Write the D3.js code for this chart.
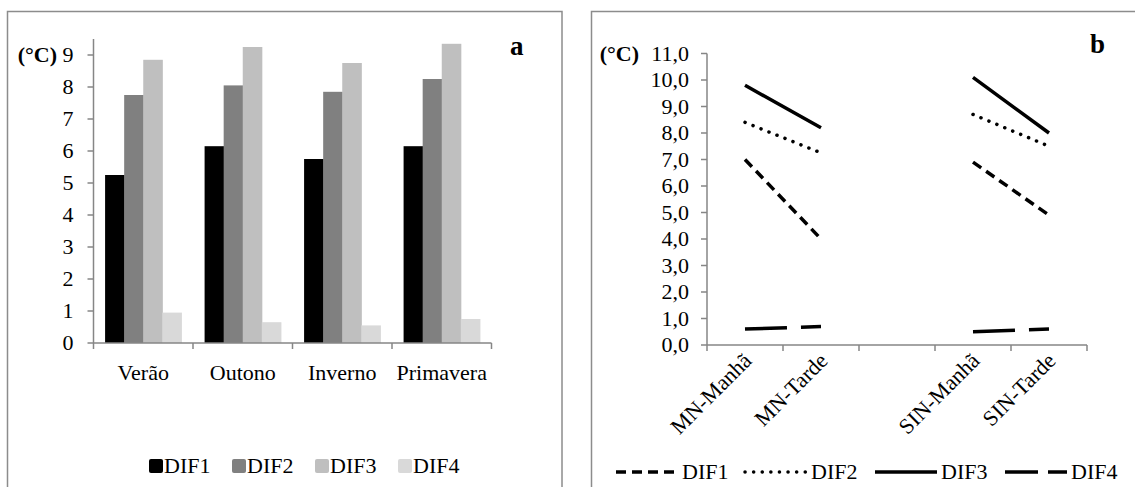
<!DOCTYPE html>
<html>
<head>
<meta charset="utf-8">
<script src="https://cdn.jsdelivr.net/npm/d3@7"></script>
<style>
	html, body { margin: 0; padding: 0; background: #fff; }
	svg { display: block; }
	svg text { font-family: "Liberation Serif", "DejaVu Serif", serif; }
</style>
</head>
<body>
<div id="chart"></div>
<script>
// panel a - seasons
var seasons = ['Verão', 'Outono', 'Inverno', 'Primavera'];
var dif1Season = [5.25, 6.15, 5.75, 6.15];
var dif2Season = [7.75, 8.05, 7.85, 8.25];
var dif3Season = [8.85, 9.25, 8.75, 9.35];
var dif4Season = [0.95, 0.65, 0.55, 0.75];
var ticksA = [0, 1, 2, 3, 4, 5, 6, 7, 8, 9];

// panel b - periods (empty slot between the two sites)
var periods = ['MN-Manhã', 'MN-Tarde', '', 'SIN-Manhã', 'SIN-Tarde'];
var dif1Period = [7.0, 4.0, null, 6.9, 4.9];
var dif2Period = [8.4, 7.25, null, 8.7, 7.5];
var dif3Period = [9.8, 8.2, null, 10.1, 8.0];
var dif4Period = [0.6, 0.7, null, 0.5, 0.6];
var ticksB = [0, 1, 2, 3, 4, 5, 6, 7, 8, 9, 10, 11];

var seriesNames = ['DIF1', 'DIF2', 'DIF3', 'DIF4'];

(function(global) {
	var W = 1135, H = 487;
	var serif = '"Liberation Serif", "DejaVu Serif", serif';
	var axisColor = '#868686', frameColor = '#8c8c8c';
	var svg = d3.select('#chart').append('svg')
		.attr('width', W)
		.attr('height', H)
		.attr('font-family', serif);

	// frames
	svg.append('rect').attr('x', 7.5).attr('y', 11.5).attr('width', 554.5).attr('height', 490)
		.attr('fill', 'none').attr('stroke', frameColor).attr('stroke-width', 1.5);
	svg.append('rect').attr('x', 591.5).attr('y', 11.5).attr('width', 560).attr('height', 490)
		.attr('fill', 'none').attr('stroke', frameColor).attr('stroke-width', 1.5);

	/* ---------- panel a ---------- */
	var a = svg.append('g');
	var ax0 = 93.5, ax1 = 491.5, ay0 = 343, ay1 = 39;
	var yA = d3.scaleLinear().domain([0, 9.5]).range([ay0, ay1]);
	var xA = d3.scaleBand().domain(seasons).range([ax0, ax1]).paddingInner(0.233).paddingOuter(0.1165);
	var xInner = d3.scaleBand().domain(seriesNames).range([0, xA.bandwidth()]);
	var barColors = ['#000000', '#808080', '#bfbfbf', '#d9d9d9'];
	var seasonSeries = [dif1Season, dif2Season, dif3Season, dif4Season];

	seasonSeries.forEach(function(vals, s) {
		a.selectAll('.bar' + s)
			.data(vals)
			.enter()
			.append('rect')
			.attr('x', function(d, i) { return xA(seasons[i]) + xInner(seriesNames[s]); })
			.attr('y', function(d) { return yA(d); })
			.attr('width', xInner.bandwidth() + 0.5)
			.attr('height', function(d) { return yA(0) - yA(d); })
			.attr('fill', barColors[s]);
	});

	// y axis a
	a.append('line').attr('x1', ax0).attr('x2', ax0).attr('y1', ay1).attr('y2', ay0)
		.attr('stroke', axisColor).attr('stroke-width', 1.5);
	a.selectAll('.ytick').data(ticksA).enter().append('line')
		.attr('x1', ax0 - 6).attr('x2', ax0)
		.attr('y1', function(d) { return yA(d); })
		.attr('y2', function(d) { return yA(d); })
		.attr('stroke', axisColor).attr('stroke-width', 1.5);
	a.selectAll('.ylab').data(ticksA).enter().append('text')
		.attr('x', ax0 - 20)
		.attr('y', function(d) { return yA(d); })
		.attr('dy', '0.34em')
		.attr('text-anchor', 'end')
		.attr('font-size', 22)
		.text(function(d) { return d; });

	// x axis a
	a.append('line').attr('x1', ax0).attr('x2', ax1).attr('y1', ay0).attr('y2', ay0)
		.attr('stroke', axisColor).attr('stroke-width', 1.5);
	var bounds = seasons.map(function(s) { return xA(s) - xA.step() * 0.1165; }).concat([ax1]);
	a.selectAll('.xtick').data(bounds).enter().append('line')
		.attr('x1', function(d) { return d; }).attr('x2', function(d) { return d; })
		.attr('y1', ay0).attr('y2', ay0 + 6)
		.attr('stroke', axisColor).attr('stroke-width', 1.5);
	a.selectAll('.xlab').data(seasons).enter().append('text')
		.attr('x', function(d) { return xA(d) + xA.bandwidth() / 2; })
		.attr('y', 380)
		.attr('text-anchor', 'middle')
		.attr('font-size', 22)
		.text(function(d) { return d; });

	a.append('text').attr('x', 57).attr('y', yA(9)).attr('dy', '0.34em')
		.attr('text-anchor', 'end').attr('font-size', 22).attr('font-weight', 'bold').text('(°C)');
	a.append('text').attr('x', 510).attr('y', 55)
		.attr('font-size', 27).attr('font-weight', 'bold').text('a');

	// legend a
	var legA = a.selectAll('.legA').data(seriesNames).enter().append('g')
		.attr('transform', function(d, i) { return 'translate(' + (149 + i * 83) + ', 466)'; });
	legA.append('rect').attr('x', 0).attr('y', -7).attr('width', 14).attr('height', 14)
		.attr('rx', 2).attr('fill', function(d, i) { return barColors[i]; });
	legA.append('text').attr('x', 15).attr('dy', '0.34em').attr('font-size', 22)
		.text(function(d) { return d; });

	/* ---------- panel b ---------- */
	var b = svg.append('g');
	var bx0 = 707, bx1 = 1087, by0 = 345, by1 = 53.5;
	var yB = d3.scaleLinear().domain([0, 11]).range([by0, by1]);
	var xB = d3.scaleBand().domain(d3.range(periods.length)).range([bx0, bx1]);
	var ptbr = d3.formatLocale({ decimal: ',', thousands: '.', grouping: [3], currency: ['', ''] });
	var fmt = ptbr.format('.1f');

	b.append('line').attr('x1', bx0).attr('x2', bx0).attr('y1', by1).attr('y2', by0)
		.attr('stroke', axisColor).attr('stroke-width', 1.5);
	b.selectAll('.ytick').data(ticksB).enter().append('line')
		.attr('x1', bx0 - 6).attr('x2', bx0)
		.attr('y1', function(d) { return yB(d); })
		.attr('y2', function(d) { return yB(d); })
		.attr('stroke', axisColor).attr('stroke-width', 1.5);
	b.selectAll('.ylab').data(ticksB).enter().append('text')
		.attr('x', bx0 - 18)
		.attr('y', function(d) { return yB(d); })
		.attr('dy', '0.34em')
		.attr('text-anchor', 'end')
		.attr('font-size', 22)
		.text(function(d) { return fmt(d); });

	b.append('line').attr('x1', bx0).attr('x2', bx1).attr('y1', by0).attr('y2', by0)
		.attr('stroke', axisColor).attr('stroke-width', 1.5);
	var boundsB = d3.range(periods.length).map(function(i) { return xB(i); }).concat([bx1]);
	b.selectAll('.xtick').data(boundsB).enter().append('line')
		.attr('x1', function(d) { return d; }).attr('x2', function(d) { return d; })
		.attr('y1', by0).attr('y2', by0 + 6)
		.attr('stroke', axisColor).attr('stroke-width', 1.5);
	b.selectAll('.xlab').data(periods).enter().append('text')
		.attr('transform', function(d, i) {
			return 'translate(' + (xB(i) + xB.bandwidth() / 2 + 8) + ', 362) rotate(-45)';
		})
		.attr('text-anchor', 'end')
		.attr('font-size', 22)
		.text(function(d) { return d; });

	var dashes = ['10,6', '0.1,8.5', null, '42,14'];
	var caps = ['butt', 'round', 'butt', 'butt'];
	var periodSeries = [dif1Period, dif2Period, dif3Period, dif4Period];
	var line = d3.line()
		.defined(function(d) { return d != null; })
		.x(function(d, i) { return xB(i) + xB.bandwidth() / 2; })
		.y(function(d) { return yB(d); });

	periodSeries.forEach(function(vals, s) {
		b.append('path')
			.datum(vals)
			.attr('d', line)
			.attr('fill', 'none')
			.attr('stroke', '#000')
			.attr('stroke-width', 3.5)
			.attr('stroke-linecap', caps[s])
			.attr('stroke-dasharray', dashes[s]);
	});

	b.append('text').attr('x', 639).attr('y', yB(11)).attr('dy', '0.34em')
		.attr('text-anchor', 'end').attr('font-size', 22).attr('font-weight', 'bold').text('(°C)');
	b.append('text').attr('x', 1090).attr('y', 53)
		.attr('font-size', 27).attr('font-weight', 'bold').text('b');

	// legend b
	var legX = [616, 745, 875, 1005];
	var legB = b.selectAll('.legB').data(seriesNames).enter().append('g')
		.attr('transform', function(d, i) { return 'translate(' + legX[i] + ', 472)'; });
	legB.append('line').attr('x1', 0).attr('x2', 62).attr('y1', 0).attr('y2', 0)
		.attr('stroke', '#000').attr('stroke-width', 3.5)
		.attr('stroke-linecap', function(d, i) { return caps[i]; })
		.attr('stroke-dasharray', function(d, i) { return i == 3 ? '33,10' : dashes[i]; });
	legB.append('text').attr('x', 66).attr('dy', '0.34em').attr('font-size', 22)
		.text(function(d) { return d; });
})(window);
</script>
</body>
</html>
